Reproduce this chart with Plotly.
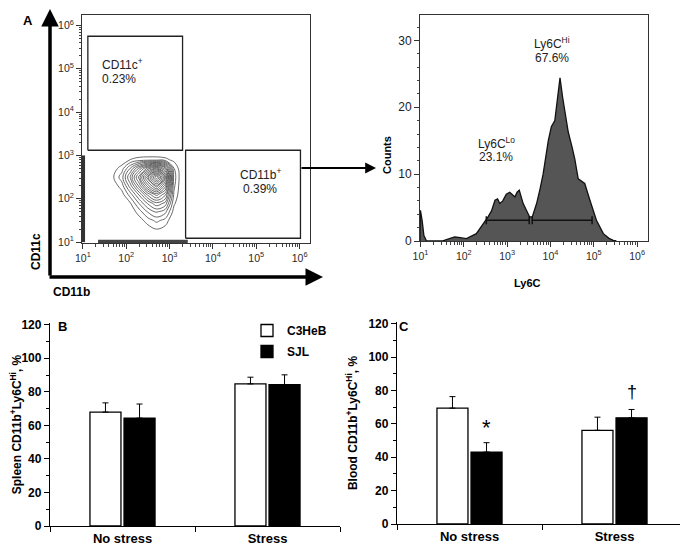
import numpy as np
import plotly.graph_objects as go

W, H = 688, 549
OFF = 8  # the page body adds an 8px margin; positions below are measured in the window
def px(x): return (x - OFF) / W
def py(y): return 1 - (y - OFF) / H

FONT = "Liberation Sans, Arial, sans-serif"

# ---------------- Panel A (left): CD11b vs CD11c contour ----------------
decade_exps = [1, 2, 3, 4, 5, 6]
decade_labels = [f"10<sup>{e}</sup>" for e in decade_exps]
minor_digits = [2, 3, 4, 5, 6, 7, 8, 9]

cont_logx = [1.5, 1.7, 1.9, 2.1, 2.3, 2.5, 2.7, 2.9, 3.1, 3.3]
cont_logy = [1.1, 1.3, 1.5, 1.7, 1.9, 2.1, 2.3, 2.5, 2.7, 2.9, 3.1]
cont_z = [
    [0, 0, 0, 0, 0, 0, 0, 0, 0, 0],
    [0, 0, 0, 0, 0, 0.5, 1.0, 0.6, 0, 0],
    [0, 0, 0, 0, 0.5, 1.5, 2.2, 1.6, 0, 0],
    [0, 0, 0, 0.3, 1.5, 3, 4, 3.2, 0.6, 0],
    [0, 0, 0, 1, 3, 5, 6.5, 5.5, 1.2, 0],
    [0, 0, 0.6, 2.5, 5, 8, 10, 8, 1.8, 0],
    [0, 0.4, 1.5, 4.5, 8, 12, 15, 11, 2.2, 0],
    [0, 0.9, 2.5, 6, 10, 15, 20, 14, 2.5, 0],
    [0, 0.5, 1.5, 4, 7, 10, 12, 9, 2, 0],
    [0, 0, 0.2, 1.05, 1.4, 1.5, 1.5, 1.3, 0.7, 0],
    [0, 0, 0, 0, 0, 0, 0, 0, 0, 0],
]
left_edge_logy = [1.0, 3.0]     # events piled on CD11b axis
bottom_edge_logx = [1.35, 3.42]  # events piled on CD11c axis

gate_cd11c_logx = [1.115, 3.30]
gate_cd11c_logy = [3.12, 5.75]
gate_cd11b_logx = [3.37, 6.02]
gate_cd11b_logy = [1.09, 3.12]

# ---------------- Panel A (right): Ly6C histogram ----------------
hist_logx = [0.99, 1.0, 1.04, 1.08, 1.14, 1.5, 1.65, 1.79, 1.92, 2.06, 2.29, 2.48,
             2.56, 2.64, 2.72, 2.78, 2.83, 2.9, 2.98, 3.06, 3.12, 3.18, 3.23, 3.28,
             3.37, 3.45, 3.52, 3.58, 3.68, 3.76, 3.83, 3.95, 4.02, 4.10, 4.15, 4.22,
             4.28, 4.35, 4.41, 4.5, 4.56, 4.64, 4.72, 4.79, 4.91, 5.06, 5.22, 5.35,
             5.45, 5.52]
hist_counts = [0, 4.6, 3.0, 0.8, 0, 0, 0.3, 0.6, 0.5, 0.35, 1.1, 2.8,
               3.6, 4.5, 6.1, 6.3, 5.6, 6.0, 7.0, 7.3, 6.9, 6.6, 7.3, 7.6,
               5.6, 4.5, 3.6, 3.6, 5.6, 7.8, 10, 15, 17.1, 18, 21, 24.4,
               21.5, 18.5, 16.3, 14, 12.3, 9.3, 8.9, 8.6, 6.1, 3.1, 1.1, 0.4,
               0.1, 0]
gate_lo_logx = [2.52, 3.51]
gate_hi_logx = [3.58, 4.96]
gate_level = 3.1

# ---------------- Panels B, C: bars ----------------
groups = ["No stress", "Stress"]
spleen_c3heb = [67.9, 84.7]
spleen_c3heb_err = [5.5, 4.0]
spleen_sjl = [64.3, 84.3]
spleen_sjl_err = [8.4, 5.8]
blood_c3heb = [69.4, 56.1]
blood_c3heb_err = [6.9, 7.9]
blood_sjl = [43.1, 63.6]
blood_sjl_err = [5.6, 5.0]

fig = go.Figure()

# contour
fig.add_trace(go.Contour(
    x=[10 ** v for v in cont_logx], y=[10 ** v for v in cont_logy], z=cont_z,
    contours=dict(start=1.0, end=19.6, size=0.95, coloring="lines"),
    line=dict(width=0.8, smoothing=1.1),
    colorscale=[[0, "#444444"], [1, "#444444"]], showscale=False,
    xaxis="x", yaxis="y", hoverinfo="skip", showlegend=False))
# edge events
fig.add_trace(go.Scatter(x=[10.1, 10.1], y=[10 ** v for v in left_edge_logy],
                         mode="lines", line=dict(color="#333", width=4),
                         xaxis="x", yaxis="y", showlegend=False, hoverinfo="skip"))
fig.add_trace(go.Scatter(x=[10 ** v for v in bottom_edge_logx], y=[10.4, 10.4],
                         mode="lines", line=dict(color="#444", width=3.5),
                         xaxis="x", yaxis="y", showlegend=False, hoverinfo="skip"))

def rect(lx, ly):
    xs = [10 ** lx[0], 10 ** lx[1], 10 ** lx[1], 10 ** lx[0], 10 ** lx[0]]
    ys = [10 ** ly[0], 10 ** ly[0], 10 ** ly[1], 10 ** ly[1], 10 ** ly[0]]
    return xs, ys

for lx, ly in [(gate_cd11c_logx, gate_cd11c_logy), (gate_cd11b_logx, gate_cd11b_logy)]:
    gx, gy = rect(lx, ly)
    fig.add_trace(go.Scatter(x=gx, y=gy, mode="lines", line=dict(color="#222", width=1.3),
                             xaxis="x", yaxis="y", showlegend=False, hoverinfo="skip"))

# histogram
fig.add_trace(go.Scatter(x=[10 ** v for v in hist_logx], y=hist_counts, mode="lines",
                         fill="tozeroy", fillcolor="#555555",
                         line=dict(color="#111", width=1.3),
                         xaxis="x2", yaxis="y2", showlegend=False, hoverinfo="skip"))
gx, gy = [], []
for a, b in [gate_lo_logx, gate_hi_logx]:
    gx += [10 ** a, 10 ** b, None, 10 ** a, 10 ** a, None, 10 ** b, 10 ** b, None]
    gy += [gate_level, gate_level, None, gate_level - 0.6, gate_level + 0.6, None,
           gate_level - 0.6, gate_level + 0.6, None]
fig.add_trace(go.Scatter(x=gx, y=gy, mode="lines", line=dict(color="#111", width=1.5),
                         xaxis="x2", yaxis="y2", showlegend=False, hoverinfo="skip"))

# bars
err_common = dict(type="data", symmetric=False, color="black", thickness=1, width=3)
fig.add_trace(go.Bar(x=groups, y=spleen_c3heb, name="C3HeB", marker=dict(color="white", line=dict(color="black", width=1.3)),
                     error_y=dict(array=spleen_c3heb_err, arrayminus=[0, 0], **err_common),
                     xaxis="x3", yaxis="y3", legendgroup="c", showlegend=True))
fig.add_trace(go.Bar(x=groups, y=spleen_sjl, name="SJL", marker=dict(color="black", line=dict(color="black", width=1.3)),
                     error_y=dict(array=spleen_sjl_err, arrayminus=[0, 0], **err_common),
                     xaxis="x3", yaxis="y3", legendgroup="s", showlegend=True))
fig.add_trace(go.Bar(x=groups, y=blood_c3heb, name="C3HeB", marker=dict(color="white", line=dict(color="black", width=1.3)),
                     error_y=dict(array=blood_c3heb_err, arrayminus=[0, 0], **err_common),
                     xaxis="x4", yaxis="y4", legendgroup="c", showlegend=False))
fig.add_trace(go.Bar(x=groups, y=blood_sjl, name="SJL", marker=dict(color="black", line=dict(color="black", width=1.3)),
                     error_y=dict(array=blood_sjl_err, arrayminus=[0, 0], **err_common),
                     xaxis="x4", yaxis="y4", legendgroup="s", showlegend=False))

tickfont_small = dict(family=FONT, size=10.5, color="#2a2a2a")
minor_vals = [d * 10 ** e for e in decade_exps[:-1] for d in minor_digits]
log_minor = dict(ticks="outside", ticklen=2.5, tickcolor="#444", tickmode="array",
                 tickvals=minor_vals, showgrid=False)

def log_axis(domain, rng, anchor):
    return dict(type="log", domain=domain, range=rng, anchor=anchor, automargin=False,
                tickmode="array", tickvals=[10 ** e for e in decade_exps], ticktext=decade_labels,
                ticks="outside", ticklen=5, tickcolor="#333", tickfont=tickfont_small,
                showline=True, linecolor="#333", linewidth=1, mirror=True,
                showgrid=False, zeroline=False, minor=log_minor)

bar_y = dict(range=[0, 121], tickvals=[0, 20, 40, 60, 80, 100, 120], ticks="outside", ticklen=5,
             tickcolor="black", tickwidth=1.2, showline=True, linecolor="black", linewidth=1.3,
             showgrid=False, zeroline=False, automargin=False,
             tickfont=dict(family=FONT, size=12, color="black", weight="bold"),
             minor=dict(ticks="outside", ticklen=3, dtick=10, tickcolor="black", showgrid=False))
bar_x = dict(type="category", tickson="boundaries", ticks="outside", ticklen=5, tickcolor="black",
             showline=True, linecolor="black", linewidth=1.3, showgrid=False, automargin=False,
             tickfont=dict(family=FONT, size=13, color="black", weight="bold"))

fig.update_layout(
    width=W, height=H, margin=dict(l=0, r=0, t=0, b=0),
    paper_bgcolor="white", plot_bgcolor="white",
    font=dict(family=FONT, color="black"),
    barmode="group", bargap=0.53, bargroupgap=0.09,
    xaxis=log_axis([px(82), px(310)], [0.98, 6.24], "y"),
    yaxis=log_axis([py(243), py(15)], [0.98, 6.24], "x"),
    xaxis2=log_axis([px(420), px(648)], [0.99, 6.25], "y2"),
    yaxis2=dict(domain=[py(241), py(15)], range=[0, 33.8], anchor="x2", automargin=False,
                tickvals=[0, 10, 20, 30], ticks="outside", ticklen=5, tickcolor="#333",
                tickfont=dict(family=FONT, size=12, color="#222"),
                showline=True, linecolor="#333", linewidth=1, mirror=True,
                showgrid=False, zeroline=False,
                minor=dict(ticks="outside", ticklen=2.5, dtick=2, tickcolor="#444", showgrid=False)),
    xaxis3=dict(domain=[px(50), px(340)], anchor="y3", **bar_x),
    yaxis3=dict(domain=[py(526), py(323)], anchor="x3",
                title=dict(text="Spleen CD11b<sup>+</sup>Ly6C<sup>Hi</sup>, %", standoff=8,
                           font=dict(family=FONT, size=12, color="black", weight="bold")),
                **bar_y),
    xaxis4=dict(domain=[px(397), px(687)], anchor="y4", **bar_x),
    yaxis4=dict(domain=[py(524), py(322)], anchor="x4",
                title=dict(text="Blood CD11b<sup>+</sup>Ly6C<sup>Hi</sup>, %", standoff=8,
                           font=dict(family=FONT, size=12, color="black", weight="bold")),
                **bar_y),
    legend=dict(x=px(247), y=py(316), xanchor="left", yanchor="top",
                font=dict(family=FONT, size=12, color="black", weight="bold"),
                bgcolor="rgba(0,0,0,0)", itemwidth=30, tracegroupgap=2),
)

ann = []
def txt(x, y, t, size=12, bold=False, xanchor="center", angle=0, color="#222"):
    ann.append(dict(x=px(x), y=py(y), xref="paper", yref="paper", text=t, showarrow=False,
                    xanchor=xanchor, yanchor="middle", textangle=angle,
                    font=dict(family=FONT, size=size, color=color, weight="bold" if bold else "normal")))

txt(28, 20, "A", 13, True, color="black")
txt(100, 64, "CD11c<sup>+</sup>", 12, xanchor="left")
txt(100, 79, "0.23%", 12, xanchor="left")
txt(260, 174, "CD11b<sup>+</sup>", 12)
txt(260, 189, "0.39%", 12)
txt(36, 252, "CD11c", 12, True, angle=-90, color="black")
txt(71, 292, "CD11b", 12, True, color="black")
txt(552, 43, "Ly6C<sup>Hi</sup>", 12)
txt(552, 58, "67.6%", 12)
txt(496, 143, "Ly6C<sup>Lo</sup>", 12)
txt(496, 157, "23.1%", 12)
txt(387, 155, "Counts", 11, True, angle=-90, color="black")
txt(527, 283, "Ly6C", 11, True, color="black")
txt(62, 326, "B", 13, True, color="black")
txt(404, 326, "C", 13, True, color="black")

# arrows
arrow = dict(xref="paper", yref="paper", text="", showarrow=True, arrowhead=2,
             arrowcolor="black", axref="pixel", ayref="pixel")
ann.append(dict(x=px(50), y=py(4), ax=0, ay=273, arrowwidth=3.5, arrowsize=1, **arrow))
ann.append(dict(x=px(323), y=py(277), ax=-275, ay=0, arrowwidth=3.5, arrowsize=1, **arrow))
ann.append(dict(x=px(376), y=py(168), ax=-76, ay=0, arrowwidth=1.8, arrowsize=1.2, **arrow))

# significance marks
ann.append(dict(x="No stress", y=58, xref="x4", yref="y4", xshift=17, text="*", showarrow=False,
                font=dict(family=FONT, size=22, color="black")))
ann.append(dict(x="Stress", y=79, xref="x4", yref="y4", xshift=17, text="†", showarrow=False,
                font=dict(family=FONT, size=18, color="black")))

fig.update_layout(annotations=ann)
fig.write_html("out.html")
